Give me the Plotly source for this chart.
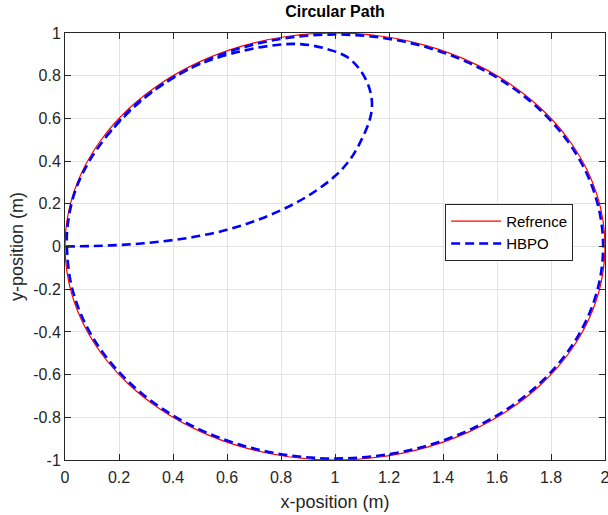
import plotly.graph_objects as go

# Reference circular path
ref_x = [2, 1.9848, 1.9397, 1.8660, 1.7660, 1.6428, 1.5, 1.3420, 1.1736, 1, 0.8264, 0.6580, 0.5,
         0.3572, 0.2340, 0.1340, 0.0603, 0.0152, 0, 0.0152, 0.0603, 0.1340, 0.2340, 0.3572, 0.5,
         0.6580, 0.8264, 1, 1.1736, 1.3420, 1.5, 1.6428, 1.7660, 1.8660, 1.9397, 1.9848, 2]
ref_y = [0, 0.1736, 0.3420, 0.5, 0.6428, 0.7660, 0.8660, 0.9397, 0.9848, 1, 0.9848, 0.9397, 0.8660,
         0.7660, 0.6428, 0.5, 0.3420, 0.1736, 0, -0.1736, -0.3420, -0.5, -0.6428, -0.7660, -0.8660,
         -0.9397, -0.9848, -1, -0.9848, -0.9397, -0.8660, -0.7660, -0.6428, -0.5, -0.3420, -0.1736, 0]

# HBPO trajectory
hbpo_x = [0.003, 0.1, 0.2, 0.3, 0.4, 0.5, 0.6, 0.7, 0.8, 0.9, 1.0, 1.06, 1.1, 1.13, 1.137, 1.125,
          1.093, 1.043, 0.956, 0.87, 0.784, 0.66, 0.51, 0.389, 0.278, 0.17, 0.09, 0.035, 0.01, 0.007,
          0.0221, 0.0669, 0.1401, 0.2394, 0.3617, 0.5035, 0.6604, 0.8276, 1, 1.1724, 1.3396, 1.4965,
          1.6383, 1.7606, 1.8599, 1.9331, 1.9779, 1.993, 1.9779, 1.9331, 1.8599, 1.7606, 1.6383,
          1.4965, 1.3396, 1.1724, 1, 0.8276, 0.6604, 0.5035, 0.3617, 0.2394, 0.1401]
hbpo_y = [0.0, 0.002, 0.007, 0.016, 0.03, 0.05, 0.078, 0.118, 0.17, 0.237, 0.33, 0.415, 0.505, 0.6,
          0.672, 0.75, 0.827, 0.889, 0.93, 0.948, 0.944, 0.917, 0.86, 0.78, 0.678, 0.54, 0.40, 0.25,
          0.1, 0.0, -0.1724, -0.3396, -0.4965, -0.6383, -0.7606, -0.8599, -0.9331, -0.9779, -0.993,
          -0.9779, -0.9331, -0.8599, -0.7606, -0.6383, -0.4965, -0.3396, -0.1724, 0, 0.1724, 0.3396,
          0.4965, 0.6383, 0.7606, 0.8599, 0.9331, 0.9779, 0.993, 0.9779, 0.9331, 0.8599, 0.7606,
          0.6383, 0.4965]

x_ticks = [0, 0.2, 0.4, 0.6, 0.8, 1, 1.2, 1.4, 1.6, 1.8, 2]
x_tick_labels = ["0", "0.2", "0.4", "0.6", "0.8", "1", "1.2", "1.4", "1.6", "1.8", "2"]
y_ticks = [-1, -0.8, -0.6, -0.4, -0.2, 0, 0.2, 0.4, 0.6, 0.8, 1]
y_tick_labels = ["-1", "-0.8", "-0.6", "-0.4", "-0.2", "0", "0.2", "0.4", "0.6", "0.8", "1"]

FONT = "Liberation Sans, Arial, sans-serif"
AX = "#262626"

fig = go.Figure()
fig.add_trace(go.Scatter(x=ref_x, y=ref_y, mode="lines", name="Refrence",
                         line=dict(color="red", width=1.2, shape="spline")))
fig.add_trace(go.Scatter(x=hbpo_x, y=hbpo_y, mode="lines", name="HBPO",
                         line=dict(color="blue", width=2.6, dash="9px,5px", shape="spline")))

axis_common = dict(showgrid=True, gridcolor="#e3e3e3", gridwidth=1, zeroline=False,
                   showline=True, linecolor=AX, linewidth=1, mirror="ticks",
                   ticks="inside", ticklen=6, tickcolor=AX, tickwidth=1, automargin=False,
                   tickfont=dict(family=FONT, size=16, color=AX))

fig.update_xaxes(range=[0, 2], tickvals=x_ticks, ticktext=x_tick_labels,
                 ticklabeloverflow="allow", ticklabelstandoff=3,
                 title=dict(text="x-position (m)", font=dict(family=FONT, size=18, color=AX), standoff=10),
                 **axis_common)
fig.update_yaxes(range=[-1, 1], tickvals=y_ticks, ticktext=y_tick_labels,
                 title=dict(text="y-position (m)", font=dict(family=FONT, size=18, color=AX), standoff=4),
                 **axis_common)

fig.update_layout(
    width=608, height=515,
    margin=dict(l=65, r=3, t=33, b=55),
    paper_bgcolor="white", plot_bgcolor="white",
    title=dict(text="<b>Circular Path</b>", x=0.5, xref="paper", xanchor="center",
               y=1 - 11 / 515, yref="container", yanchor="middle",
               font=dict(family=FONT, size=16, color="black")),
    legend=dict(x=0.704, y=0.6, xanchor="left", yanchor="top",
                bgcolor="white", bordercolor=AX, borderwidth=1,
                font=dict(family=FONT, size=15, color="black"),
                tracegroupgap=0, itemwidth=50),
    showlegend=True,
)

fig.write_html("out.html")
